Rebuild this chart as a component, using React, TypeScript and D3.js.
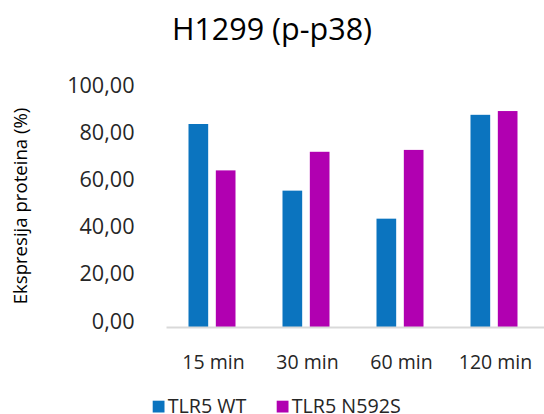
import React from "react";
import * as d3 from "d3";

const categories = ["15 min", "30 min", "60 min", "120 min"];
const seriesNames = ["TLR5 WT", "TLR5 N592S"];
const wtValues = [86.2, 57.9, 46.0, 90.1];
const mutValues = [66.5, 74.4, 75.2, 91.7];
const yTicks = [0, 20, 40, 60, 80, 100];
const colors = ["#0B74BF", "#B100B1"];

const W = 544;
const H = 414;
const FONT = "'Open Sans', sans-serif";

export default function App() {
  const x0 = d3.scaleBand<string>().domain(categories).range([165, 541]).padding(0);
  const x1 = d3
    .scaleBand<string>()
    .domain(seriesNames)
    .range([0, x0.bandwidth()])
    .paddingInner(0.28)
    .paddingOuter(0.86);
  const y = d3.scaleLinear().domain([0, 100]).range([327, 91.5]);
  const series = [wtValues, mutValues];
  const fmt = (v: number) => v.toFixed(2).replace(".", ",");

  return (
    <svg width={W} height={H} style={{ position: "absolute", left: 0, top: 0 }}>
      <rect width={W} height={H} fill="#fff" />
      <text x={272} y={40} textAnchor="middle" fontFamily={FONT} fontSize={30.5} fill="#000">
        H1299 (p-p38)
      </text>
      <text
        transform="translate(26.5,206) rotate(-90)"
        textAnchor="middle"
        fontFamily={FONT}
        fontSize={18.6}
        fill="#000"
      >
        Ekspresija proteina (%)
      </text>
      {yTicks.map((t) => (
        <text
          key={t}
          x={134.5}
          y={y(t) + 1.5}
          textAnchor="end"
          fontFamily={FONT}
          fontSize={21.6}
          fill="#262626"
        >
          {fmt(t)}
        </text>
      ))}
      {categories.map((c, i) => (
        <g key={c}>
          {series.map((vals, s) => (
            <rect
              key={s}
              x={(x0(c) as number) + (x1(seriesNames[s]) as number)}
              y={y(vals[i])}
              width={x1.bandwidth()}
              height={y(0) - y(vals[i])}
              fill={colors[s]}
            />
          ))}
          <text
            x={(x0(c) as number) + x0.bandwidth() / 2 + 1.5}
            y={368.5}
            textAnchor="middle"
            fontFamily={FONT}
            fontSize={19.5}
            fill="#262626"
          >
            {c}
          </text>
        </g>
      ))}
      <line x1={166.5} x2={544} y1={327.5} y2={327.5} stroke="#D9D9D9" strokeWidth={2} />
      {seriesNames.map((n, s) => {
        const lx = s === 0 ? 152.7 : 276.7;
        return (
          <g key={n}>
            <rect x={lx} y={400.7} width={11.8} height={11.8} fill={colors[s]} />
            <text x={lx + 15} y={412.6} fontFamily={FONT} fontSize={19.7} fill="#262626">
              {n}
            </text>
          </g>
        );
      })}
    </svg>
  );
}
